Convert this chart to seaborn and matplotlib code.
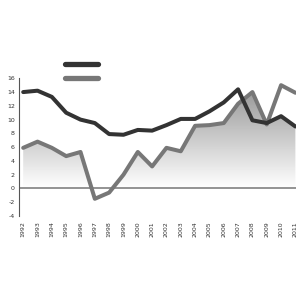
import numpy as np
import pandas as pd
import matplotlib
matplotlib.use("Agg")
import matplotlib.pyplot as plt
import seaborn as sns
from matplotlib.lines import Line2D
from matplotlib.colors import LinearSegmentedColormap

years = list(range(1992, 2012))
series_dark = [14.0, 14.2, 13.3, 11.0, 10.0, 9.5, 7.9, 7.8, 8.5, 8.4,
               9.2, 10.1, 10.1, 11.2, 12.5, 14.4, 9.9, 9.5, 10.5, 9.0]
series_gray = [5.9, 6.8, 5.9, 4.7, 5.3, -1.5, -0.6, 2.0, 5.3, 3.2,
               5.9, 5.4, 9.1, 9.2, 9.5, 12.3, 14.0, 9.3, 15.0, 13.9]
area_vals = [5.9, 6.8, 5.9, 4.7, 5.3, -1.5, -0.6, 2.0, 5.3, 3.2,
             5.9, 5.4, 9.1, 9.2, 9.5, 12.3, 14.0, 9.5, 10.5, 9.0]
y_ticks = [-4, -2, 0, 2, 4, 6, 8, 10, 12, 14, 16]

sns.set_theme(style="white")
plt.rcParams['font.family'] = ['DejaVu Sans']

fig = plt.figure(figsize=(3, 3), dpi=100)
ax = fig.add_axes([0.063, 0.28, 0.924, 0.459])

df = pd.DataFrame({"year": years, "dark": series_dark, "gray": series_gray, "area": area_vals})

# gradient area
poly = ax.fill_between(df["year"], 0, df["area"], color="none", lw=0)
cmap = LinearSegmentedColormap.from_list("g", ["#ffffff", "#9a9a9a"])
grad = np.linspace(0, 1, 256).reshape(-1, 1)
grad = np.clip(grad * 16 / 14, 0, 1)
im = ax.imshow(grad, extent=[1991, 2012, 0, 16], origin="lower", aspect="auto",
               cmap=cmap, vmin=0, vmax=1, zorder=1)
path = poly.get_paths()[0]
im.set_clip_path(path, transform=ax.transData)

ax.axhline(0, color="#808080", lw=1.2, zorder=2)

sns.lineplot(data=df, x="year", y="gray", ax=ax, color="#777777", lw=2.9, zorder=3)
sns.lineplot(data=df, x="year", y="dark", ax=ax, color="#333333", lw=2.9, zorder=4)

ax.set_xlim(1991.7, 2011.05)
ax.set_ylim(-4, 16)
ax.set_xticks(years)
ax.set_xticklabels([str(y) for y in years], rotation=90, fontsize=4.5, color="#333333")
ax.set_yticks(y_ticks)
ax.set_yticklabels([str(t) for t in y_ticks], fontsize=4.5, color="#333333")
ax.tick_params(axis="y", direction="in", length=2, width=0.8, color="#555555", pad=3)
ax.tick_params(axis="x", length=0, pad=4)
ax.set_xlabel("")
ax.set_ylabel("")
for s in ["top", "right", "bottom"]:
    ax.spines[s].set_visible(False)
ax.spines["left"].set_color("#555555")
ax.spines["left"].set_linewidth(0.8)

handles = [Line2D([], [], color="#333333", lw=3.8, solid_capstyle="round"),
           Line2D([], [], color="#777777", lw=3.8, solid_capstyle="round")]
fig.legend(handles=handles, labels=["", ""], loc="center left",
           bbox_to_anchor=(0.217, 0.761), frameon=False, fontsize=6,
           handlelength=4.0, labelspacing=0.55, handletextpad=0,
           borderpad=0, borderaxespad=0)

fig.savefig("out.png", dpi=100)
